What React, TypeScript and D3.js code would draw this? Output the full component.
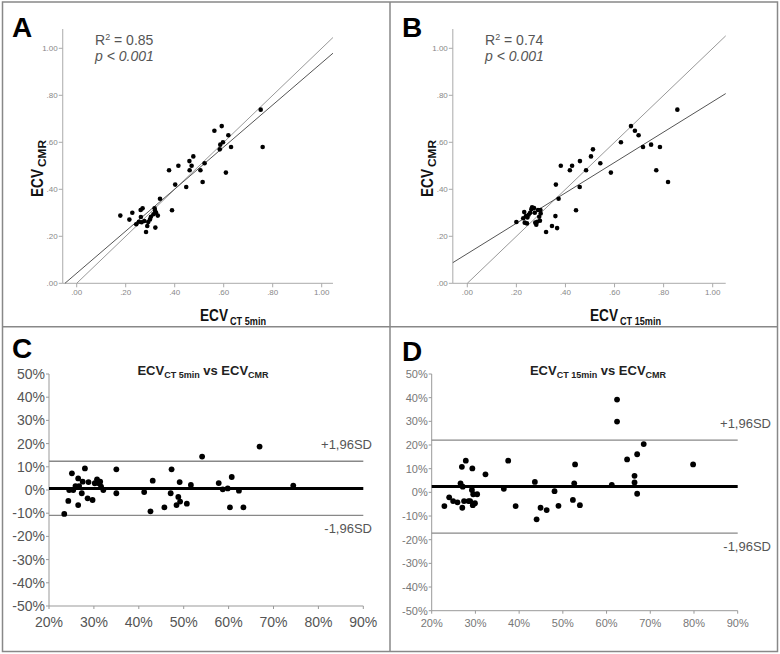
import React from 'react';
import * as d3 from 'd3';

// Panel A: ECV CT 5min (x) vs ECV CMR (y)
const aX = [0.178,0.215,0.227,0.243,0.254,0.261,0.269,0.262,0.265,0.276,0.283,0.288,0.292,0.299,0.303,0.313,0.318,0.321,0.320,0.324,0.331,0.340,0.389,0.377,0.402,0.415,0.447,0.460,0.461,0.469,0.476,0.505,0.514,0.522,0.562,0.584,0.586,0.592,0.597,0.609,0.619,0.630,0.751,0.759];
const aY = [0.288,0.271,0.300,0.251,0.262,0.312,0.319,0.282,0.260,0.265,0.218,0.244,0.261,0.272,0.283,0.294,0.319,0.237,0.308,0.300,0.288,0.360,0.311,0.481,0.420,0.500,0.410,0.520,0.481,0.500,0.540,0.481,0.431,0.511,0.649,0.570,0.590,0.669,0.600,0.471,0.630,0.580,0.739,0.580];
// Panel B: ECV CT 15min (x) vs ECV CMR (y)
const bX = [0.200,0.232,0.228,0.234,0.239,0.243,0.245,0.250,0.256,0.261,0.264,0.272,0.275,0.277,0.281,0.285,0.288,0.293,0.296,0.298,0.299,0.321,0.345,0.359,0.366,0.361,0.372,0.381,0.418,0.427,0.443,0.458,0.459,0.484,0.504,0.512,0.542,0.585,0.626,0.667,0.683,0.698,0.716,0.749,0.770,0.785,0.818,0.856];
const bY = [0.261,0.303,0.277,0.258,0.286,0.255,0.280,0.292,0.300,0.315,0.323,0.320,0.300,0.258,0.249,0.262,0.312,0.283,0.266,0.312,0.297,0.218,0.244,0.286,0.235,0.420,0.360,0.500,0.481,0.500,0.311,0.410,0.520,0.481,0.540,0.570,0.511,0.471,0.600,0.669,0.649,0.630,0.580,0.590,0.481,0.580,0.431,0.739];
// Regression lines [intercept, slope]
const regA = [0.043, 0.895];
const regB = [0.126, 0.647];
const r2Labels = ['0.85', '0.74'];

// Panel C: Bland-Altman CT 5min vs CMR (mean %, difference %)
const cMean = [23.4,24.3,24.5,25.1,25.4,25.9,26.5,26.5,26.7,27.3,27.5,28.0,28.6,28.8,29.7,30.2,30.7,31.1,31.4,31.6,32.1,35.0,35.0,41.2,42.6,43.1,45.7,47.1,47.3,48.4,48.8,49.1,49.2,50.7,51.6,54.1,57.8,58.7,59.8,60.3,60.7,62.3,63.3,66.9,74.4];
const cDiff = [-10.3,-4.7,0,7.2,0,1.7,5.0,-6.5,1.7,-1.4,3.6,9.3,-3.6,3.4,-4.3,2.9,4.6,2.9,3.6,1.4,0,8.9,-1.4,-0.9,-9.2,4.0,-7.5,-1.4,8.9,-6.5,-3.0,3.4,-5.0,-5.9,2.2,14.4,3.0,0.3,0.7,-7.5,5.6,-0.3,-7.5,18.7,1.9];
const cLimits = [0.7, 12.4, -10.9];
// Panel D: Bland-Altman CT 15min vs CMR
const dMean = [22.9,24.0,24.9,25.9,26.6,26.9,27.0,27.1,27.4,27.8,28.4,28.8,29.2,29.3,29.4,29.5,29.9,30.4,32.3,36.5,37.5,39.2,43.6,44.0,44.9,46.3,48.1,49.0,52.3,52.6,52.8,53.9,61.2,62.4,62.4,64.7,66.4,66.4,67.0,67.0,68.5,79.8];
const dDiff = [-5.8,-2.1,-3.7,-4.2,3.8,10.8,-6.5,2.4,-3.7,13.4,-3.7,-3.7,1.0,10.1,-5.4,-0.8,-4.6,-0.8,7.6,1.5,13.4,-5.8,4.4,-11.4,-6.5,-7.5,0.5,-5.7,-3.2,3.8,11.8,-5.4,3.1,39.2,29.9,13.9,7.0,4.2,16.1,-0.6,20.4,11.8];
const dLimits = [2.5, 22.1, -17.2];

const scatterTicks = [0, 0.2, 0.4, 0.6, 0.8, 1.0];
const baTicksX = [20, 30, 40, 50, 60, 70, 80, 90];
const baTicksY = [50, 40, 30, 20, 10, 0, -10, -20, -30, -40, -50];

const fmtScatter = (d: number) => (d === 1 ? '1.00' : d3.format('.2f')(d).replace(/^0/, ''));
const SANS = 'Liberation Sans, Arial, sans-serif';

function Scatter(props: {
  xs: number[]; ys: number[]; reg: number[]; r2: string; letter: string; sub: string;
  x0: number; x1: number; xMin: number; xMax: number; subLen: number;
}) {
  const { xs, ys, reg, r2, letter, sub, x0, x1, xMin, xMax, subLen } = props;
  const x = d3.scaleLinear().domain([0, 1]).range([x0, x1]);
  const y = d3.scaleLinear().domain([0, 1]).range([283.3, 48.3]);
  const yMax = 1.082;
  const line = d3.line<number[]>().x(d => x(d[0])).y(d => y(d[1]));
  const regStart = Math.max(xMin, -reg[0] / reg[1]);
  const regPts = [[regStart, reg[0] + reg[1] * regStart], [xMax, reg[0] + reg[1] * xMax]];
  const idPts = [[0, 0], [xMax, xMax]];
  const axisX = x(xMin);
  const offX = x0 < 200 ? 0 : 390;
  return (
    <g>
      <text x={12 + offX} y={37} fontFamily={SANS} fontWeight="bold" fontSize={28} fill="#000">{letter}</text>
      {/* axes */}
      <line x1={axisX} x2={axisX} y1={y(yMax)} y2={y(0)} stroke="#aaa" strokeWidth={1} />
      <line x1={axisX} x2={x(xMax)} y1={y(0)} y2={y(0)} stroke="#aaa" strokeWidth={1} />
      {scatterTicks.map(t => (
        <g key={'y' + t}>
          <line x1={axisX - 4} x2={axisX} y1={y(t)} y2={y(t)} stroke="#aaa" />
          <text x={axisX - 5} y={y(t) + 3} textAnchor="end" fontFamily={SANS} fontSize={8} fill="#888">{fmtScatter(t)}</text>
        </g>
      ))}
      {scatterTicks.map(t => (
        <g key={'x' + t}>
          <line x1={x(t)} x2={x(t)} y1={y(0)} y2={y(0) + 4} stroke="#aaa" />
          <text x={x(t)} y={y(0) + 12} textAnchor="middle" fontFamily={SANS} fontSize={8} fill="#888">{fmtScatter(t)}</text>
        </g>
      ))}
      {/* lines */}
      <path d={line(idPts) || ''} stroke="#999" strokeWidth={1} fill="none" />
      <path d={line(regPts) || ''} stroke="#555" strokeWidth={1} fill="none" />
      {xs.map((v, i) => (
        <circle key={i} cx={x(v)} cy={y(ys[i])} r={2.3} fill="#000" />
      ))}
      {/* stats */}
      <text x={95 + offX} y={45} fontFamily={SANS} fontSize={14} fill="#555">
        R<tspan dy={-5} fontSize={9}>2</tspan><tspan dy={5}>{' = ' + r2}</tspan>
      </text>
      <text x={95 + offX} y={61} fontFamily={SANS} fontSize={14} fill="#555" fontStyle="italic">
        p &lt; 0.001
      </text>
      {/* y axis title */}
      <g transform={`translate(${43 + offX},197) rotate(-90)`}>
        <text x={0} y={0} fontFamily={SANS} fontWeight="bold" fontSize={17} fill="#111"
          textLength={28} lengthAdjust="spacingAndGlyphs">ECV</text>
        <text x={30} y={3} fontFamily={SANS} fontWeight="bold" fontSize={11} fill="#111"
          textLength={27} lengthAdjust="spacingAndGlyphs">CMR</text>
      </g>
      {/* x axis title */}
      <text x={200 + offX} y={321} fontFamily={SANS} fontWeight="bold" fontSize={17} fill="#111"
        textLength={28} lengthAdjust="spacingAndGlyphs">ECV</text>
      <text x={230 + offX} y={325} fontFamily={SANS} fontWeight="bold" fontSize={11} fill="#111"
        textLength={subLen} lengthAdjust="spacingAndGlyphs">{sub}</text>
    </g>
  );
}

function BlandAltman(props: {
  means: number[]; diffs: number[]; limits: number[]; letter: string; sub: string;
  x0: number; x1: number; yBottom: number; titleX: number; labelEnd: number;
  fontSize: number; tickColor: string; letterY: number; offX: number;
}) {
  const { means, diffs, limits, letter, sub, x0, x1, yBottom, titleX, labelEnd, fontSize, tickColor, letterY, offX } = props;
  const x = d3.scaleLinear().domain([20, 90]).range([x0, x1]);
  const y = d3.scaleLinear().domain([-50, 50]).range([yBottom, 374]);
  const hline = (v: number) => d3.line<number>().x(d => x(d)).y(() => y(v))([20, 90]) || '';
  const fmt = (d: number) => d + '%';
  return (
    <g>
      <text x={12 + offX} y={letterY} fontFamily={SANS} fontWeight="bold" fontSize={28} fill="#000">{letter}</text>
      <text x={titleX} y={375} textAnchor="middle" fontFamily={SANS} fontWeight="bold" fontSize={13} fill="#222">
        ECV<tspan dy={3} fontSize={9}>{sub}</tspan><tspan dy={-3}> vs ECV</tspan><tspan dy={3} fontSize={9}>CMR</tspan>
      </text>
      <line x1={x0} x2={x0} y1={y(50)} y2={y(-50)} stroke="#999" />
      <line x1={x0} x2={x1} y1={y(-50)} y2={y(-50)} stroke="#999" />
      {baTicksY.map(t => (
        <g key={'y' + t}>
          <line x1={x0 - 3} x2={x0} y1={y(t)} y2={y(t)} stroke="#999" />
          <text x={x0 - 4} y={y(t) + fontSize * 0.35} textAnchor="end" fontFamily={SANS} fontSize={fontSize} fill={tickColor}>{fmt(t)}</text>
        </g>
      ))}
      {baTicksX.map(t => (
        <g key={'x' + t}>
          <line x1={x(t)} x2={x(t)} y1={y(-50)} y2={y(-50) + 3} stroke="#999" />
          <text x={x(t)} y={627} textAnchor="middle" fontFamily={SANS} fontSize={fontSize} fill={tickColor}>{fmt(t)}</text>
        </g>
      ))}
      <path d={hline(limits[1])} stroke="#888" strokeWidth={1.3} fill="none" />
      <path d={hline(limits[2])} stroke="#888" strokeWidth={1.3} fill="none" />
      <path d={hline(limits[0])} stroke="#000" strokeWidth={3} fill="none" />
      <text x={labelEnd} y={y(limits[1]) - 12} textAnchor="end" fontFamily={SANS} fontSize={13} fill="#555">+1,96SD</text>
      <text x={labelEnd} y={y(limits[2]) + 18} textAnchor="end" fontFamily={SANS} fontSize={13} fill="#555">-1,96SD</text>
      {means.map((m, i) => (
        <circle key={i} cx={x(m)} cy={y(diffs[i])} r={2.9} fill="#000" />
      ))}
    </g>
  );
}

export default function App() {
  return (
    <div style={{ position: 'absolute', left: 0, top: 0 }}>
      <svg width={780} height={654} style={{ display: 'block', background: '#fff' }}>
        <rect x={0} y={0} width={780} height={654} fill="#fff" />
        <Scatter xs={aX} ys={aY} reg={regA} r2={r2Labels[0]} letter="A" sub="CT 5min"
          x0={76.7} x1={321.7} xMin={-0.057} xMax={1.046} subLen={36} />
        <Scatter xs={bX} ys={bY} reg={regB} r2={r2Labels[1]} letter="B" sub="CT 15min"
          x0={467.3} x1={712.7} xMin={-0.059} xMax={1.053} subLen={41} />
        <BlandAltman means={cMean} diffs={cDiff} limits={cLimits} letter="C" sub="CT 5min"
          x0={49} x1={363.3} yBottom={606} titleX={203} labelEnd={372} fontSize={14} tickColor="#555" letterY={358} offX={0} />
        <BlandAltman means={dMean} diffs={dDiff} limits={dLimits} letter="D" sub="CT 15min"
          x0={431.7} x1={737.7} yBottom={610.7} titleX={598} labelEnd={771} fontSize={11} tickColor="#777" letterY={361} offX={390} />
        <rect x={2.5} y={2} width={775} height={649.5} fill="none" stroke="#888" strokeWidth={1.5} />
        <line x1={390} x2={390} y1={2} y2={651.5} stroke="#888" strokeWidth={1.5} />
        <line x1={2.5} x2={777.5} y1={326.7} y2={326.7} stroke="#888" strokeWidth={1.5} />
      </svg>
    </div>
  );
}
